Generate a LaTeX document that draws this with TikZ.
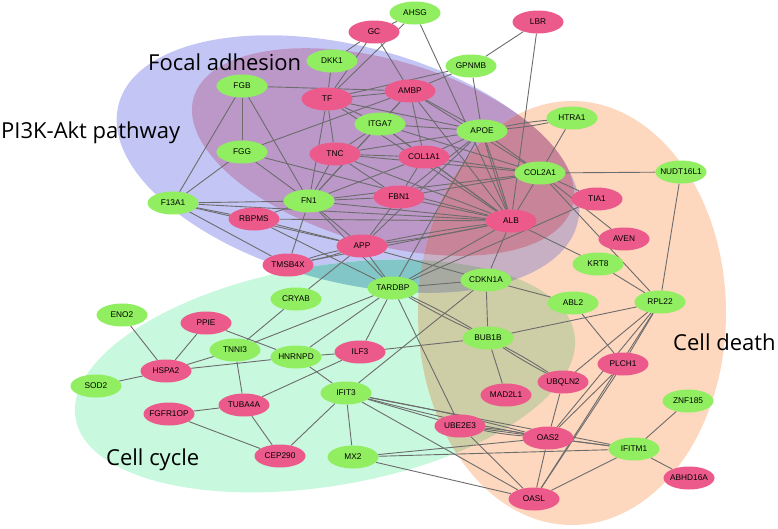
\documentclass[tikz,border=0pt]{standalone}
\usepackage{fontspec}
\setmainfont{Liberation Sans}
\newfontfamily\setfont{Open Sans}
\usetikzlibrary{shapes.geometric}
\pgfdeclarelayer{back}
\pgfsetlayers{back,main}
\definecolor{upgreen}{RGB}{144,238,96}
\definecolor{downpink}{RGB}{236,90,140}
\definecolor{edgegray}{RGB}{108,108,108}
\definecolor{aktfill}{RGB}{195,198,245}
\definecolor{focalfill}{RGB}{187,152,200}
\definecolor{cyclefill}{RGB}{200,248,221}
\definecolor{deathfill}{RGB}{253,215,190}
\definecolor{tealfill}{RGB}{130,198,200}
\definecolor{mauvefill}{RGB}{200,176,196}
\definecolor{redfill}{RGB}{200,132,152}
\definecolor{olivefill}{RGB}{205,205,166}
\definecolor{greyfill}{RGB}{166,170,160}
\newcommand{\aktpath}{[rotate around={-14.5:(348,164)}] (348,164) ellipse (237 and 118)}
\newcommand{\focalpath}{[rotate around={-16:(383,152)}] (383,152) ellipse (197 and 92)}
\newcommand{\cyclepath}{[rotate around={9.6:(325,376)}] (325,376) ellipse (253 and 110)}
\newcommand{\deathpath}{(572,313) ellipse (154 and 212)}
\tikzset{
  gene/.style={ellipse, minimum width=51pt, minimum height=23pt, inner sep=0pt,
    font=\fontsize{8.3}{9}\selectfont,
    execute at begin node={\hbox to 0pt\bgroup\hss},
    execute at end node={\hss\egroup}},
  upgene/.style={gene, fill=upgreen},
  downgene/.style={gene, fill=downpink},
  link/.style={draw=edgegray, line width=0.9pt},
  setname/.style={inner sep=0pt, font=\setfont\fontsize{22}{26}\selectfont}
}
\begin{document}
\begin{tikzpicture}[x=1pt,y=-1pt]
\useasboundingbox (0,0) rectangle (778,528);
\node[setname, anchor=base west] (aktname) at (1,138) {PI3K-Akt pathway};
\node[setname, anchor=base west] (focalname) at (148,70) {Focal adhesion};
\node[setname, anchor=base west] (deathname) at (673,350) {Cell death};
\node[setname, anchor=base west] (cyclename) at (106,465) {Cell cycle};
\node[upgene] (ahsg) at (415,13) {AHSG};
\node[downgene] (lbr) at (538,22) {LBR};
\node[downgene] (gc) at (374,32) {GC};
\node[upgene] (dkk1) at (332,61) {DKK1};
\node[upgene] (gpnmb) at (471,66) {GPNMB};
\node[downgene] (ambp) at (410,91) {AMBP};
\node[upgene] (fgb) at (242,86) {FGB};
\node[downgene] (tf) at (327,99) {TF};
\node[upgene] (itga7) at (380,124) {ITGA7};
\node[upgene] (apoe) at (482,131) {APOE};
\node[upgene] (htra1) at (572,118) {HTRA1};
\node[upgene] (fgg) at (242,152) {FGG};
\node[downgene] (tnc) at (335,154) {TNC};
\node[downgene] (col1a1) at (424,157) {COL1A1};
\node[upgene] (col2a1) at (540,173) {COL2A1};
\node[upgene] (nudt) at (681,172) {NUDT16L1};
\node[downgene] (fbn1) at (399,197) {FBN1};
\node[downgene] (tia1) at (597,199) {TIA1};
\node[upgene] (f13a1) at (173,203) {F13A1};
\node[upgene] (fn1) at (309,201) {FN1};
\node[downgene] (rbpms) at (254,219) {RBPMS};
\node[downgene] (alb) at (511,221) {ALB};
\node[downgene] (aven) at (624,239) {AVEN};
\node[downgene] (app) at (362,246) {APP};
\node[downgene] (tmsb4x) at (288,265) {TMSB4X};
\node[upgene] (krt8) at (598,264) {KRT8};
\node[upgene] (tardbp) at (393,288) {TARDBP};
\node[upgene] (cdkn1a) at (486,280) {CDKN1A};
\node[upgene] (cryab) at (296,299) {CRYAB};
\node[upgene] (abl2) at (573,303) {ABL2};
\node[upgene] (rpl22) at (660,302) {RPL22};
\node[upgene] (eno2) at (122,315) {ENO2};
\node[downgene] (ppie) at (206,323) {PPIE};
\node[upgene] (tnni3) at (235,350) {TNNI3};
\node[upgene] (hnrnpd) at (296,357) {HNRNPD};
\node[downgene] (ilf3) at (360,352) {ILF3};
\node[upgene] (bub1b) at (488,338) {BUB1B};
\node[downgene] (hspa2) at (166,371) {HSPA2};
\node[upgene] (sod2) at (96,386) {SOD2};
\node[downgene] (plch1) at (623,364) {PLCH1};
\node[downgene] (ubqln2) at (563,382) {UBQLN2};
\node[downgene] (mad2l1) at (506,395) {MAD2L1};
\node[downgene] (tuba4a) at (244,405) {TUBA4A};
\node[upgene] (ifit3) at (346,393) {IFIT3};
\node[downgene] (fgfr1op) at (169,414) {FGFR1OP};
\node[upgene] (znf185) at (688,401) {ZNF185};
\node[downgene] (ube2e3) at (460,426) {UBE2E3};
\node[downgene] (oas2) at (548,438) {OAS2};
\node[downgene] (cep290) at (280,456) {CEP290};
\node[upgene] (mx2) at (353,457) {MX2};
\node[upgene] (ifitm1) at (634,449) {IFITM1};
\node[downgene] (abhd16a) at (689,478) {ABHD16A};
\node[downgene] (oasl) at (534,499) {OASL};
\begin{pgfonlayer}{back}
\fill[aktfill] \aktpath;
\fill[focalfill] \focalpath;
\fill[cyclefill] \cyclepath;
\fill[deathfill] \deathpath;
\begin{scope}
\clip \cyclepath;
\fill[olivefill] \deathpath;
\end{scope}
\begin{scope}
\clip \aktpath;
\fill[tealfill] \cyclepath;
\fill[mauvefill] \deathpath;
\clip \cyclepath;
\fill[greyfill] \deathpath;
\end{scope}
\begin{scope}
\clip \focalpath;
\fill[redfill] \deathpath;
\end{scope}
\draw[link] (gc) -- (ahsg);
\draw[link] (gc) -- (tf);
\draw[link] (gc) -- (ambp);
\draw[link] (gc) -- (dkk1);
\draw[link] (dkk1) -- (tf);
\draw[link] (ahsg) -- (tf);
\draw[link] (ahsg) -- (alb);
\draw[link] (lbr) -- (gpnmb);
\draw[link] (lbr) -- (alb);
\draw[link] (gpnmb) -- (ambp);
\draw[link] (gpnmb) -- (apoe);
\draw[link] (gpnmb) -- (tf);
\draw[link] (fgb) -- (fgg);
\draw[link] (fgb) -- (f13a1);
\draw[link] (fgb) -- (fn1);
\draw[link] (fgb) -- (ambp);
\draw[link] (fgg) -- (f13a1);
\draw[link] (fgg) -- (fn1);
\draw[link] (fgg) -- (ambp);
\draw[link] (fgg) -- (alb);
\draw[link] (tf) -- (ambp);
\draw[link] (tf) -- (itga7);
\draw[link] (tf) -- (tnc);
\draw[link] (tf) -- (fn1);
\draw[link] (tf) -- (apoe);
\draw[link] (tf) -- (alb);
\draw[link] (ambp) -- (apoe);
\draw[link] (ambp) -- (alb);
\draw[link] (ambp) -- (col2a1);
\draw[link] (ambp) -- (itga7);
\draw[link] (ambp) -- (fn1);
\draw[link] (ambp) -- (col1a1);
\draw[link] (itga7) -- (tnc);
\draw[link] (itga7) -- (fn1);
\draw[link] (itga7) -- (apoe);
\draw[link] (itga7) -- (col1a1);
\draw[link] (itga7) -- (alb);
\draw[link] (itga7) -- (col2a1);
\draw[link] (apoe) to[bend left=3] (htra1);
\draw[link] (apoe) to[bend right=3] (htra1);
\draw[link] (apoe) -- (col2a1);
\draw[link] (apoe) to[bend left=2] (alb);
\draw[link] (apoe) to[bend right=2] (alb);
\draw[link] (apoe) -- (fbn1);
\draw[link] (apoe) -- (col1a1);
\draw[link] (apoe) -- (app);
\draw[link] (apoe) -- (tardbp);
\draw[link] (apoe) -- (tnc);
\draw[link] (htra1) -- (col2a1);
\draw[link] (col2a1) -- (nudt);
\draw[link] (col2a1) -- (tia1);
\draw[link] (col2a1) -- (aven);
\draw[link] (col2a1) -- (rpl22);
\draw[link] (col2a1) -- (col1a1);
\draw[link] (col2a1) -- (fbn1);
\draw[link] (col2a1) -- (alb);
\draw[link] (col2a1) -- (fn1);
\draw[link] (col2a1) -- (tnc);
\draw[link] (nudt) -- (rpl22);
\draw[link] (tnc) -- (fn1);
\draw[link] (tnc) -- (col1a1);
\draw[link] (tnc) -- (alb);
\draw[link] (tnc) -- (fbn1);
\draw[link] (col1a1) -- (fn1);
\draw[link] (col1a1) -- (fbn1);
\draw[link] (col1a1) -- (alb);
\draw[link] (fbn1) -- (fn1);
\draw[link] (fbn1) -- (alb);
\draw[link] (fbn1) -- (app);
\draw[link] (f13a1) -- (fn1);
\draw[link] (f13a1) -- (alb);
\draw[link] (f13a1) -- (tmsb4x);
\draw[link] (f13a1) -- (app);
\draw[link] (f13a1) -- (rbpms);
\draw[link] (fn1) -- (rbpms);
\draw[link] (fn1) -- (alb);
\draw[link] (fn1) -- (app);
\draw[link] (fn1) -- (tmsb4x);
\draw[link] (fn1) -- (tardbp);
\draw[link] (rbpms) -- (app);
\draw[link] (rbpms) -- (tardbp);
\draw[link] (rbpms) -- (alb);
\draw[link] (app) to[bend left=3] (tmsb4x);
\draw[link] (app) to[bend right=3] (tmsb4x);
\draw[link] (app) -- (tardbp);
\draw[link] (app) -- (cryab);
\draw[link] (app) to[bend left=2] (alb);
\draw[link] (app) to[bend right=2] (alb);
\draw[link] (app) -- (cdkn1a);
\draw[link] (tmsb4x) -- (alb);
\draw[link] (alb) -- (krt8);
\draw[link] (alb) -- (cdkn1a);
\draw[link] (alb) -- (tardbp);
\draw[link] (tia1) -- (tardbp);
\draw[link] (krt8) -- (rpl22);
\draw[link] (tardbp) -- (tnni3);
\draw[link] (tardbp) -- (hnrnpd);
\draw[link] (tardbp) -- (ilf3);
\draw[link] (tardbp) to[bend left=2.5] (bub1b);
\draw[link] (tardbp) to[bend right=2.5] (bub1b);
\draw[link] (tardbp) -- (ube2e3);
\draw[link] (tardbp) -- (cdkn1a);
\draw[link] (cdkn1a) -- (abl2);
\draw[link] (cdkn1a) -- (bub1b);
\draw[link] (cdkn1a) -- (ifit3);
\draw[link] (abl2) -- (plch1);
\draw[link] (rpl22) -- (bub1b);
\draw[link] (rpl22) -- (ubqln2);
\draw[link] (rpl22) -- (oas2);
\draw[link] (rpl22) -- (oasl);
\draw[link] (rpl22) -- (plch1);
\draw[link] (bub1b) to[bend left=2.5] (ubqln2);
\draw[link] (bub1b) to[bend right=2.5] (ubqln2);
\draw[link] (bub1b) -- (mad2l1);
\draw[link] (bub1b) -- (ilf3);
\draw[link] (plch1) -- (oas2);
\draw[link] (plch1) -- (oasl);
\draw[link] (ubqln2) -- (oas2);
\draw[link] (znf185) -- (ifitm1);
\draw[link] (ube2e3) to[bend left=3] (oas2);
\draw[link] (ube2e3) to[bend right=3] (oas2);
\draw[link] (ube2e3) -- (ifitm1);
\draw[link] (ube2e3) -- (oasl);
\draw[link] (ube2e3) -- (ifit3);
\draw[link] (oas2) -- (ifitm1);
\draw[link] (oas2) -- (oasl);
\draw[link] (oas2) to[bend left=2] (ifit3);
\draw[link] (oas2) to[bend right=2] (ifit3);
\draw[link] (oas2) -- (mx2);
\draw[link] (ifitm1) -- (abhd16a);
\draw[link] (ifitm1) -- (oasl);
\draw[link] (ifitm1) -- (mx2);
\draw[link] (ifitm1) -- (ifit3);
\draw[link] (oasl) -- (mx2);
\draw[link] (oasl) -- (ifit3);
\draw[link] (ifit3) -- (hnrnpd);
\draw[link] (ifit3) -- (mx2);
\draw[link] (ifit3) -- (cep290);
\draw[link] (hnrnpd) -- (ilf3);
\draw[link] (hnrnpd) -- (hspa2);
\draw[link] (ppie) -- (hnrnpd);
\draw[link] (ilf3) -- (tuba4a);
\draw[link] (tnni3) -- (tuba4a);
\draw[link] (tnni3) -- (cryab);
\draw[link] (tnni3) -- (hspa2);
\draw[link] (hspa2) -- (eno2);
\draw[link] (hspa2) -- (sod2);
\draw[link] (hspa2) -- (ppie);
\draw[link] (tuba4a) -- (fgfr1op);
\draw[link] (tuba4a) -- (cep290);
\draw[link] (fgfr1op) -- (cep290);
\end{pgfonlayer}
\end{tikzpicture}
\end{document}
